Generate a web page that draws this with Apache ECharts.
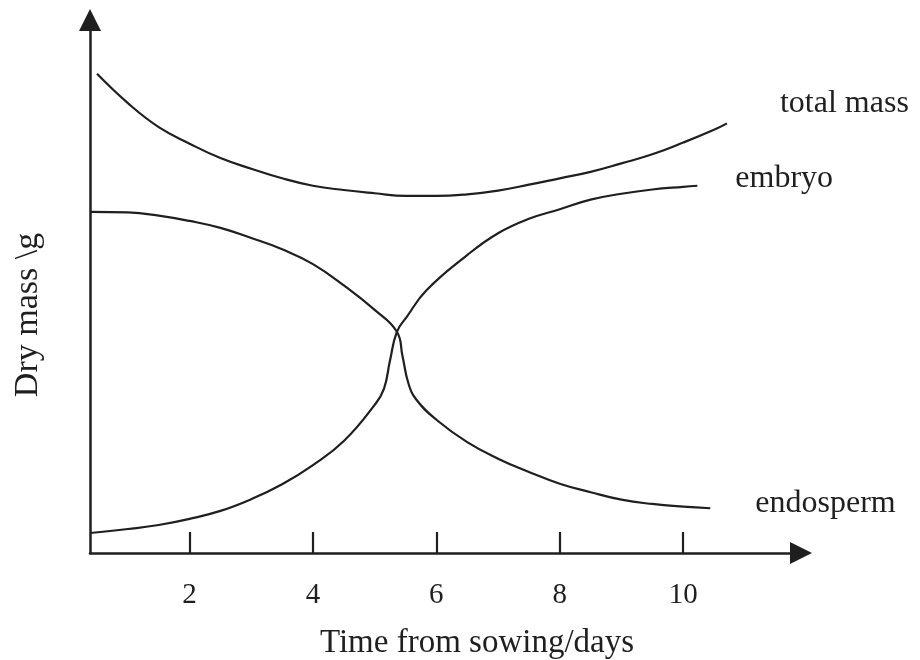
<!DOCTYPE html>
<html>
<head>
<meta charset="utf-8">
<script src="https://cdn.jsdelivr.net/npm/echarts@6/dist/echarts.min.js"></script>
<style>html,body{margin:0;padding:0;background:#fff;}#c{width:920px;height:660px;}</style>
</head>
<body>
<div id="c"></div>
<script>
// Time from sowing (days) and dry mass (arbitrary units, no scale on the y axis)
const xTicks = [2, 4, 6, 8, 10];

const totalDays = [0.5, 1, 1.5, 2, 2.5, 3, 3.5, 4, 4.5, 5, 5.5, 6, 6.5, 7, 7.5, 8, 8.5, 9, 9.5, 10, 10.5, 10.71];
const totalMass = [89.9, 84.4, 79.9, 76.8, 74.1, 72.1, 70.3, 68.9, 68.1, 67.5, 67.0, 67.0, 67.3, 68.0, 69.1, 70.3, 71.5, 73.1, 74.8, 77.0, 79.4, 80.6];

const embryoDays = [0.39, 1, 1.5, 2, 2.5, 3, 3.5, 4, 4.5, 5, 5.15, 5.25, 5.36, 5.52, 5.84, 6.5, 7, 7.5, 8, 8.5, 9, 9.5, 10, 10.23];
const embryoMass = [3.75, 4.5, 5.25, 6.4, 7.9, 10.1, 12.9, 16.5, 21.0, 27.8, 30.8, 36.2, 41.5, 44.3, 49.3, 55.9, 60.0, 62.7, 64.5, 66.3, 67.4, 68.2, 68.7, 68.9];

const endoDays = [0.39, 1, 1.5, 2, 2.5, 3, 3.5, 4, 4.5, 5, 5.36, 5.45, 5.55, 5.68, 6, 6.5, 7, 7.5, 8, 8.5, 9, 9.5, 10, 10.44];
const endoMass = [64.0, 63.9, 63.3, 62.3, 61.0, 59.1, 57.0, 54.2, 50.2, 45.6, 41.5, 37.0, 31.7, 28.7, 25.0, 20.8, 17.7, 15.2, 13.0, 11.4, 10.0, 9.2, 8.7, 8.4];

const pairs = (xs, ys) => xs.map((x, i) => [x, ys[i]]);

const ink = '#1f1f1f';
const font = 'Liberation Serif';

function lineSeries(name, data, offset) {
  return {
    type: 'line',
    name: name,
    data: data,
    smooth: 0.45,
    showSymbol: false,
    silent: true,
    lineStyle: { color: ink, width: 2.2 },
    endLabel: {
      show: true,
      formatter: '{a}',
      distance: 0,
      offset: offset,
      color: ink,
      fontFamily: font,
      fontSize: 32,
      align: 'left',
      verticalAlign: 'middle'
    }
  };
}

const chart = echarts.init(document.getElementById('c'), null, { renderer: 'canvas' });
chart.setOption({
  backgroundColor: '#ffffff',
  animation: false,
  grid: { left: 90, right: 119, top: 20, bottom: 107 },
  xAxis: {
    type: 'value',
    min: 0.386,
    max: 11.91,
    axisLine: {
      show: true,
      symbol: ['none', 'triangle'],
      symbolSize: [22, 22],
      lineStyle: { color: ink, width: 2.5 }
    },
    axisTick: {
      show: true,
      inside: true,
      length: 21,
      customValues: xTicks,
      lineStyle: { color: ink, width: 2.2 }
    },
    axisLabel: {
      show: true,
      customValues: xTicks,
      margin: 28,
      color: ink,
      fontFamily: font,
      fontSize: 29
    },
    splitLine: { show: false }
  },
  yAxis: {
    type: 'value',
    min: 0,
    max: 100,
    axisLine: {
      show: true,
      symbol: ['none', 'triangle'],
      symbolSize: [22, 22],
      lineStyle: { color: ink, width: 2.5 }
    },
    axisTick: { show: false },
    axisLabel: { show: false },
    splitLine: { show: false }
  },
  graphic: [
    {
      type: 'text',
      x: 477, y: 643,
      style: { text: 'Time from sowing/days', fontFamily: font, fontSize: 33, fill: ink, align: 'center', verticalAlign: 'middle' }
    },
    {
      type: 'text',
      x: 28, y: 315,
      rotation: Math.PI / 2,
      style: { text: 'Dry mass \\g', fontFamily: font, fontSize: 34, fill: ink, align: 'center', verticalAlign: 'middle' }
    }
  ],
  series: [
    lineSeries('total mass', pairs(totalDays, totalMass), [53, -20]),
    lineSeries('embryo', pairs(embryoDays, embryoMass), [38, -7]),
    lineSeries('endosperm', pairs(endoDays, endoMass), [45, -5])
  ]
});
</script>
</body>
</html>
